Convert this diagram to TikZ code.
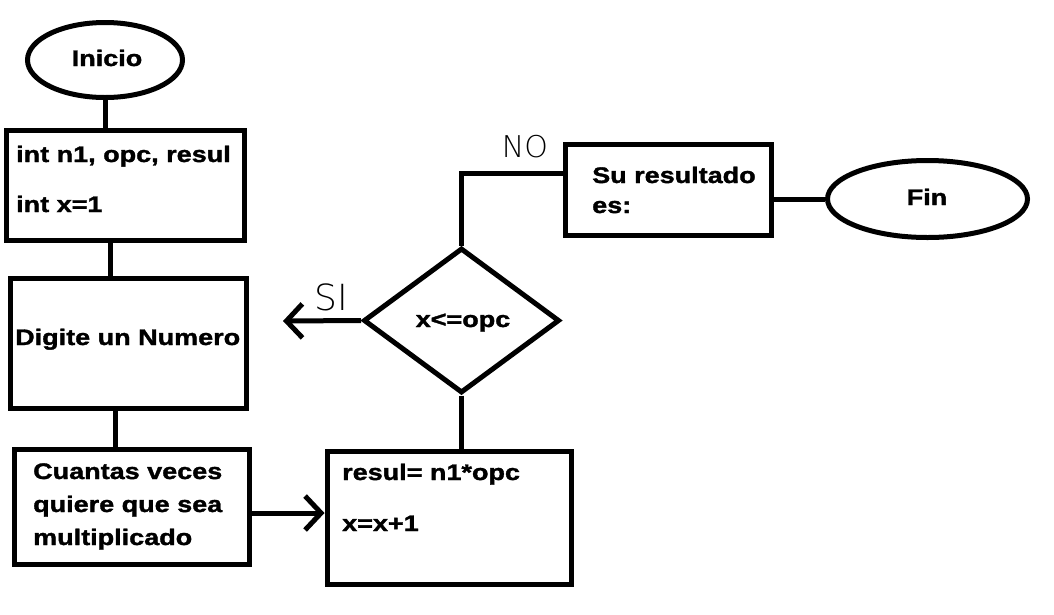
\documentclass[tikz,border=0pt]{standalone}
\usepackage{fontspec}
\newfontfamily\boxfont[FakeStretch=1.2,FakeBold=1.5]{Liberation Sans Bold}
\newfontfamily\handfont{DejaVu Sans ExtraLight}
\usetikzlibrary{shapes.geometric,arrows.meta}
\begin{document}
\begin{tikzpicture}[x=1pt,y=-1pt,
  box/.style={draw=black,line width=5pt,rectangle,inner sep=0pt,fill=white},
  term/.style={draw=black,line width=5pt,ellipse,inner sep=0pt,fill=white},
  dec/.style={draw=black,line width=5pt,diamond,inner sep=0pt,fill=white},
  txt/.style={font=\boxfont\fontsize{22.5}{27}\selectfont,inner sep=0pt,anchor=base west},
  ctxt/.style={font=\boxfont\fontsize{22.5}{27}\selectfont,inner sep=0pt,anchor=base},
  hand/.style={font=\handfont\fontsize{30}{30}\selectfont,inner sep=0pt},
  conn/.style={draw=black,line width=5pt},
  arr/.style={conn,-{Straight Barb[length=16pt,width=34pt]}}]
\useasboundingbox (0,0) rectangle (1054,614);
\fill[white] (0,0) rectangle (1054,614);
% shapes
\node[term,minimum width=155pt,minimum height=75pt] (ini) at (105,60) {};
\node[box,minimum width=238pt,minimum height=110pt] (b1) at (125,185) {};
\node[box,minimum width=236pt,minimum height=130pt] (b2) at (128,343) {};
\node[box,minimum width=235pt,minimum height=115pt] (b3) at (131.5,506.5) {};
\node[box,minimum width=244pt,minimum height=133pt] (b4) at (449,517.5) {};
\node[dec,minimum width=196pt,minimum height=145pt] (d) at (461.5,320.5) {};
\node[box,minimum width=206pt,minimum height=91pt] (b5) at (668,190) {};
\node[term,minimum width=200pt,minimum height=77pt] (fin) at (927.5,199) {};
% texts
\node[ctxt] (tini) at (107,66) {Inicio};
\node[txt] (t1a) at (16,162) {int n1, opc, resul};
\node[txt] (t1b) at (16,212) {int x=1};
\node[txt] (t2) at (15,345) {Digite un Numero};
\node[txt] (t3a) at (33,479) {Cuantas veces};
\node[txt] (t3b) at (33,512) {quiere que sea};
\node[txt] (t3c) at (33,545) {multiplicado};
\node[txt] (t4a) at (342,480) {resul= n1*opc};
\node[txt] (t4b) at (342,531) {x=x+1};
\node[ctxt] (td) at (463,327) {x<=opc};
\node[txt] (t5a) at (592,183) {Su resultado};
\node[txt] (t5b) at (592,213) {es:};
\node[ctxt] (tfin) at (927,205) {Fin};
\node[hand] (no) at (525,147) {NO};
\node[hand,font=\handfont\fontsize{36}{36}\selectfont] (si) at (331,297) {SI};
% connectors
\draw[conn] (ini.south) -- (ini.south |- b1.north);
\draw[conn] ([xshift=-15pt]b1.south) -- ([xshift=-15pt]b1.south |- b2.north);
\draw[conn] ([xshift=-13pt]b2.south) -- ([xshift=-13pt]b2.south |- b3.north);
\coordinate (a34) at ([yshift=-6.5pt]b3.east);
\draw[arr] (a34) -- (a34 -| b4.west);
\draw[conn] (d.south) -- (d.south |- b4.north);
\coordinate (siend) at (283,321);
\draw[arr] (d.west) -- (siend);
\draw[conn] (d.north) |- ([yshift=17pt]b5.west);
\draw[conn] (fin.west) -- (fin.west -| b5.east);
\end{tikzpicture}
\end{document}
